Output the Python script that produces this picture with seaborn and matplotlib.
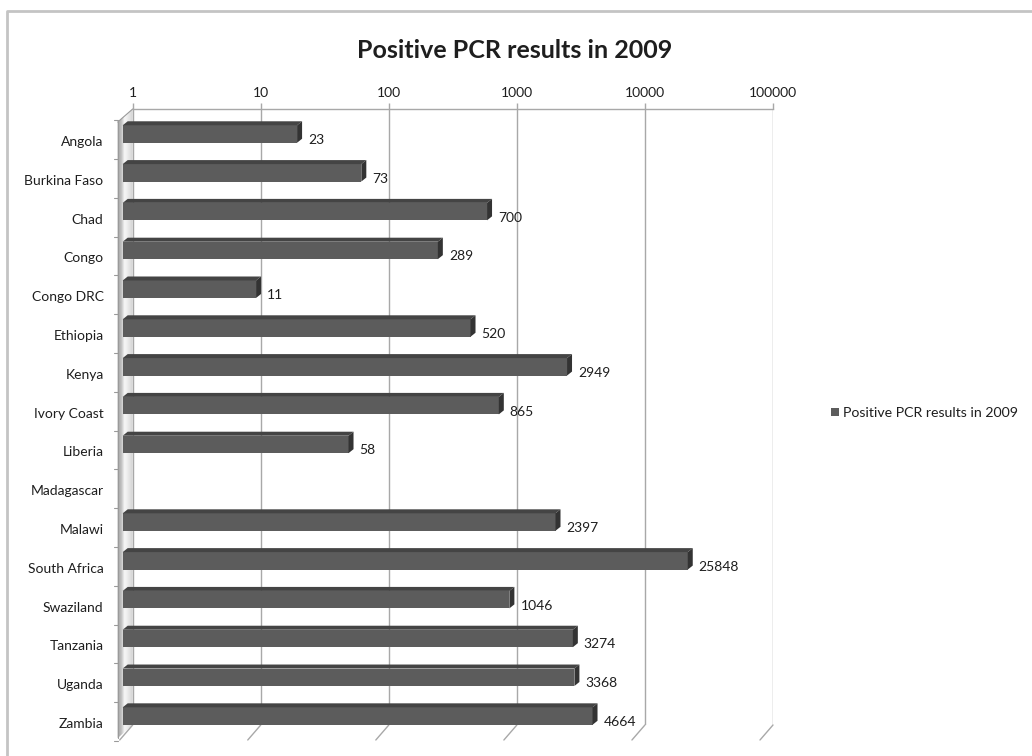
import numpy as np
import pandas as pd
import matplotlib
matplotlib.use("Agg")
import matplotlib.pyplot as plt
import seaborn as sns
from matplotlib.patches import Polygon, Patch
from matplotlib.lines import Line2D
from matplotlib.ticker import NullLocator
from matplotlib.transforms import ScaledTranslation, IdentityTransform

# ---- data -------------------------------------------------------------
countries = ["Angola", "Burkina Faso", "Chad", "Congo", "Congo DRC", "Ethiopia",
             "Kenya", "Ivory Coast", "Liberia", "Madagascar", "Malawi",
             "South Africa", "Swaziland", "Tanzania", "Uganda", "Zambia"]
positives = [23, 73, 700, 289, 11, 520, 2949, 865, 58, np.nan, 2397,
             25848, 1046, 3274, 3368, 4664]
tick_values = [1, 10, 100, 1000, 10000, 100000]
tick_labels = ["1", "10", "100", "1000", "10000", "100000"]
title = "Positive PCR results in 2009"

# ---- style ------------------------------------------------------------
FRONT = "#5c5c5c"
TOP = "#444444"
SIDE = "#333333"
GRID = "#a8a8a8"
TEXT = "#1e1e1e"

sns.set_theme(style="white")
plt.rcParams["font.family"] = ["Lato", "DejaVu Sans"]

W, H, DPI = 1032, 756, 100
fig = plt.figure(figsize=(W / DPI, H / DPI), dpi=DPI)
fig.patch.set_facecolor("white")
ax = fig.add_axes([132.7 / W, 1 - 725 / H, 640.3 / W, 616 / H])
ax.set_facecolor("none")

df = pd.DataFrame({"country": countries, "positives": positives}).dropna()
sns.barplot(data=df, y="country", x="positives", order=countries, orient="h",
            color=FRONT, saturation=1, width=0.45, ax=ax, zorder=3)

ax.set_xscale("log")
ax.set_xlim(1, 1e5)
ax.set_ylim(15.05, -0.825)
ax.set_xticks(tick_values, tick_labels)
ax.xaxis.set_minor_locator(NullLocator())
ax.set_xlabel("")
ax.set_ylabel("")

for side in ["left", "right", "bottom"]:
    ax.spines[side].set_visible(False)
ax.spines["top"].set_color(GRID)
ax.spines["top"].set_linewidth(1)
ax.grid(axis="x", color=GRID, linewidth=1)
ax.grid(axis="y", visible=False)

ax.tick_params(axis="x", top=True, bottom=False, labeltop=True, labelbottom=False,
               length=4, width=1, color=GRID, pad=3, labelsize=10, labelcolor=TEXT)
ax.tick_params(axis="y", left=False, length=0, pad=21, labelsize=10, labelcolor=TEXT)

# ---- 3-D look: shift front faces, add top and side faces ----------------
px = fig.dpi_scale_trans
front_shift = ScaledTranslation(-10 / DPI, 7 / DPI, px)
depth = (5, 4)
half_h = 0.45 * 38.8 / 2

for p in ax.patches:
    value = p.get_width()
    row = p.get_y() + p.get_height() / 2
    p.set_x(1)
    p.set_width(value - 1)
    p.set_transform(ax.transData + front_shift)
    p.set_clip_on(False)
    p.set_edgecolor("none")

    x0, yc = ax.transData.transform((1, row))
    xv, _ = ax.transData.transform((value, row))
    L, R = x0 - 10, xv - 10
    yc = yc + 7
    top, bot = yc + half_h, yc - half_h
    dx, dy = depth
    ax.add_artist(Polygon([(L, top), (R, top), (R + dx, top + dy), (L + dx, top + dy)],
                          closed=True, facecolor=TOP, edgecolor="none",
                          transform=IdentityTransform(), clip_on=False, zorder=3))
    ax.add_artist(Polygon([(R, top), (R, bot), (R + dx, bot + dy), (R + dx, top + dy)],
                          closed=True, facecolor=SIDE, edgecolor="none",
                          transform=IdentityTransform(), clip_on=False, zorder=3))
    ax.text(value, row, f"{value:.0f}", ha="left", va="center", fontsize=10,
            color=TEXT, transform=ax.transData + ScaledTranslation(1 / DPI, 1 / DPI, px),
            clip_on=False, zorder=4)

# ---- side wall and floor edges -----------------------------------------
y_top_row, y_bot_row = ax.get_ylim()[1], ax.get_ylim()[0]
bx, by_top = ax.transData.transform((1, y_top_row))
_, by_bot = ax.transData.transform((1, y_bot_row))
wdx, wdy = -15, -13
n_strips = 14
shades = np.concatenate([np.linspace(0.58, 0.95, n_strips // 2),
                         np.linspace(0.95, 0.80, n_strips - n_strips // 2)])
for k in range(n_strips):
    f0, f1 = k / n_strips, (k + 1) / n_strips
    xa, ya = wdx * (1 - f0), wdy * (1 - f0)
    xb, yb = wdx * (1 - f1), wdy * (1 - f1)
    g = shades[k]
    ax.add_artist(Polygon([(bx + xa, by_top + ya), (bx + xb, by_top + yb),
                           (bx + xb, by_bot + yb), (bx + xa, by_bot + ya)],
                          closed=True, facecolor=(g, g, g), edgecolor="none",
                          transform=IdentityTransform(), clip_on=False, zorder=1))
ax.add_artist(Line2D([bx + wdx, bx + wdx], [by_top + wdy, by_bot + wdy], color="#9a9a9a",
                     lw=0.8, transform=IdentityTransform(), clip_on=False, zorder=1))
ax.add_artist(Line2D([bx, bx + wdx], [by_top, by_top + wdy], color="#9a9a9a",
                     lw=0.8, transform=IdentityTransform(), clip_on=False, zorder=1))

# small ticks on the wall between categories
for i in range(len(countries) + 1):
    _, ty = ax.transData.transform((1, i - 0.5))
    ty = ty + 1.5
    ax.add_artist(Line2D([bx + wdx - 4, bx + wdx], [ty, ty], color="#9a9a9a", lw=0.8,
                         transform=IdentityTransform(), clip_on=False, zorder=1))

# floor edges of the gridlines
for t in tick_values:
    gx, gy = ax.transData.transform((t, y_bot_row))
    ax.add_artist(Line2D([gx, gx - 13], [gy, gy - 15], color=GRID, lw=1,
                         transform=IdentityTransform(), clip_on=False, zorder=1))

# ---- title, legend, frame ----------------------------------------------
fig.text(515 / W, 1 - 50 / H, title, ha="center", va="center", fontsize=18,
         fontweight="bold", color=TEXT)

ax.legend(handles=[Patch(facecolor=FRONT, edgecolor="none")], labels=[title],
          loc="center left", bbox_to_anchor=(831 / W, 1 - 413 / H),
          bbox_transform=fig.transFigure, frameon=False, fontsize=10.2,
          handlelength=0.55, handleheight=0.55, handletextpad=0.3,
          borderpad=0, borderaxespad=0, labelcolor=TEXT)

fig.add_artist(Line2D([7 / W, 7 / W, 1.0], [0, 1 - 11 / H, 1 - 11 / H],
                      transform=fig.transFigure, color="#c4c4c4", lw=2))

fig.savefig("out.png", dpi=DPI)
